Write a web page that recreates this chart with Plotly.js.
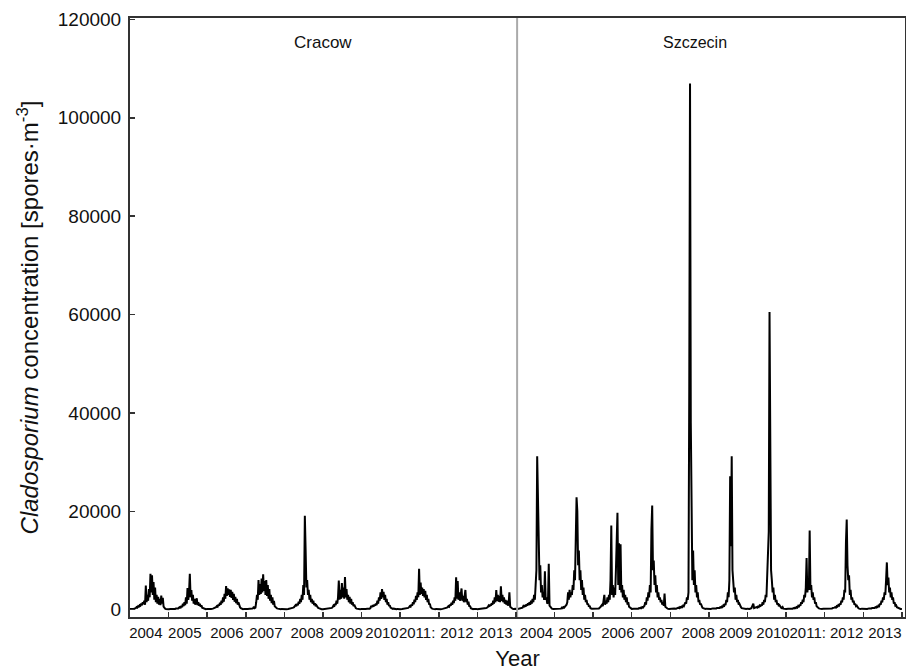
<!DOCTYPE html>
<html>
<head>
<meta charset="utf-8">
<script src="https://cdn.plot.ly/plotly-3.0.1.min.js"></script>
<style>html,body{margin:0;padding:0;background:#fff;}#chart{width:906px;height:671px;}</style>
</head>
<body>
<div id="chart"></div>
<script>
// Sampling positions within each year (fraction of the year)
const FRAC = [0,0.05,0.10,0.15,0.17,0.19,0.21,0.23,0.25,0.27,0.29,0.31,0.33,0.35,0.37,0.39,0.41,0.43,0.45,0.47,0.49,0.51,0.53,0.55,0.57,0.59,0.61,0.63,0.65,0.67,0.69,0.71,0.73,0.75,0.77,0.79,0.81,0.83,0.85,0.87,0.89,0.91,0.93,0.965];

const YEARS = ["2004","2005","2006","2007","2008","2009","2010","2011:","2012","2013"];
const CITIES = ["Cracow","Szczecin"];

// Cracow daily concentrations (spores/m3), one array per year on FRAC
const cracow2004 = [150,100,200,300,500,400,700,600,900,800,1200,900,1500,1100,1800,1000,4900,1500,3000,1800,4200,2500,7300,3500,7000,3000,5600,2000,4500,1500,3000,1200,2600,1000,2200,900,2850,1200,2400,600,300,200,150,100];
const cracow2005 = [100,150,100,200,150,250,200,300,250,400,500,300,800,500,1200,700,1500,900,2500,1200,4400,2000,3500,7300,2500,4000,1800,3000,1200,2200,1000,1800,2300,900,1500,800,1200,600,900,400,300,200,150,100];
const cracow2006 = [150,100,150,200,250,300,400,500,700,600,1000,800,1400,1000,1800,1300,2500,1600,3200,2200,4800,2800,4300,3000,4100,2600,4000,2400,3600,2000,3200,1600,2600,1300,2200,1000,1500,700,500,300,200,150,100,150];
const cracow2007 = [100,150,200,150,250,300,600,300,400,1500,3000,2000,6000,3000,5200,3200,6300,3500,7200,3800,5800,3000,6000,2800,5000,2200,4200,1800,3000,1300,2500,1000,1800,700,500,300,250,200,150,200,150,100,150,100];
const cracow2008 = [150,100,150,200,250,300,350,400,500,700,900,700,1200,900,1600,1200,2200,1500,3000,2000,5000,3000,19100,12200,4500,6000,3000,4000,2000,3000,1500,2200,1200,1800,900,1300,700,900,500,400,300,200,150,100];
const cracow2009 = [100,150,100,200,150,250,300,350,500,800,600,1200,900,1800,1200,2500,5900,2000,4000,2200,5400,2500,4500,2200,6650,2500,4200,2000,3000,1500,2600,1200,2200,1000,1500,700,1000,400,300,200,150,100,150,100];
const cracow2010 = [150,100,150,200,150,250,200,300,800,500,900,600,1000,800,1200,900,1800,1200,2500,1800,3500,2200,4200,2500,3600,2000,3000,1500,2200,1000,1500,700,900,400,300,200,150,200,150,100,150,100,150,100];
const cracow2011 = [100,150,200,150,250,300,350,500,700,600,1000,800,1500,1100,2000,1500,2800,2000,3500,2500,8300,3000,5500,3200,4500,2800,4200,2500,3800,2000,3000,1500,2200,1000,1200,500,300,200,150,100,150,100,150,100];
const cracow2012 = [150,100,150,200,250,300,400,500,700,600,1000,800,1400,1000,1800,1300,2500,1800,6600,2200,5800,2000,3500,1800,3000,4300,1800,2800,1500,2500,4000,1500,2200,1000,1600,600,800,300,200,150,100,150,100,150];
const cracow2013 = [100,150,100,200,150,250,300,350,400,500,800,600,1000,800,1300,1000,1800,1200,2500,1500,4000,1800,3000,1600,2800,1500,4750,1800,3000,1500,2500,1200,2000,1000,1800,800,1200,3500,600,400,300,200,150,100];

// Szczecin daily concentrations (spores/m3), one array per year on FRAC
const szczecin2004 = [200,150,300,500,400,700,500,900,600,1100,800,1300,900,1500,1000,1800,1200,2200,1500,3000,2000,5000,8000,31200,20700,14900,6000,9000,3500,5000,2500,3500,2000,7800,2000,2500,1200,1500,9300,800,500,300,200,150];
const szczecin2005 = [150,200,150,300,200,400,300,500,400,600,800,1000,1500,3500,2000,4000,2500,3500,3000,5000,4000,8000,6000,16500,22850,20000,9000,12000,6000,8000,4000,6000,3000,4500,2000,3000,1500,2000,1000,1200,600,800,300,200];
const szczecin2006 = [200,150,300,250,400,500,800,1000,700,1500,3000,1000,1800,1200,2500,1500,3000,2000,6000,17100,3000,5000,2500,4500,3000,8000,13500,19700,5000,13500,4000,13300,3500,5000,2500,4000,2000,3000,1500,2500,1000,1500,600,300];
const szczecin2007 = [150,200,150,250,200,300,250,400,300,500,400,600,800,1500,1000,2500,1800,3500,2500,5000,3500,16300,21150,8000,10000,5000,7000,3500,5000,2500,3500,2000,2500,1500,2000,1000,1500,800,3250,600,400,300,200,150];
const szczecin2008 = [200,150,250,200,300,250,400,300,500,400,600,500,800,700,1000,1500,1200,2500,2000,3500,44400,107000,38000,13000,6000,12000,5000,8000,3500,5000,2500,3500,1500,2000,1000,1200,500,400,300,200,250,150,200,150];
const szczecin2009 = [200,150,250,200,300,250,350,300,400,350,500,400,600,500,800,600,1200,900,2000,1500,3500,2500,6000,27100,12900,31200,8000,5000,3500,4500,2000,3000,1500,2000,1000,1200,600,500,300,250,200,150,200,150];
const szczecin2010 = [200,150,300,1200,300,400,350,500,400,600,500,800,600,1000,800,1500,1000,2000,1500,3000,2500,6000,12900,15900,60500,31000,8000,6000,3500,4500,2000,3000,1500,2000,1000,1300,700,900,500,400,300,500,200,150];
const szczecin2011 = [150,200,150,250,200,300,250,400,300,500,400,700,500,1000,800,1500,1200,2000,1500,3000,2500,4500,10500,3500,5000,4000,16100,4000,5000,2500,3500,2000,2500,1200,1500,700,500,300,250,200,150,200,150,200];
const szczecin2012 = [200,150,250,200,300,250,350,300,400,500,400,700,600,900,800,1200,1000,1800,1500,2500,2000,4000,3500,13600,18300,9000,6000,7000,3000,4000,2000,2500,1500,1800,1000,1200,700,800,400,300,200,250,150,200];
const szczecin2013 = [150,200,150,250,200,300,250,350,300,400,350,500,400,600,500,800,700,1200,1000,1800,1500,2500,2000,3500,3000,6000,9600,5000,6500,3500,4500,2500,3500,2000,2500,1200,1500,800,900,500,400,300,200,150];

const cracowSeries = [cracow2004,cracow2005,cracow2006,cracow2007,cracow2008,cracow2009,cracow2010,cracow2011,cracow2012,cracow2013];
const szczecinSeries = [szczecin2004,szczecin2005,szczecin2006,szczecin2007,szczecin2008,szczecin2009,szczecin2010,szczecin2011,szczecin2012,szczecin2013];

// Year label positions (in year units from start) as placed in the figure
const labelPos = [0.41,1.42,2.51,3.52,4.59,5.60,6.53,7.44,8.47,9.48,10.53,11.53,12.64,13.64,14.72,15.69,16.66,17.56,18.57,19.56];

const xs = [], ys = [];
[cracowSeries, szczecinSeries].forEach((series, ci) => {
  series.forEach((vals, yi) => {
    const offset = ci * 10 + yi;
    vals.forEach((v, i) => { xs.push(offset + FRAC[i]); ys.push(v); });
  });
});
xs.push(20); ys.push(150);

const tickBounds = [];
for (let k = 1; k <= 20; k++) tickBounds.push(k);

const yMin = -1500, yMax = 120300, xMin = 0, xMax = 20.08;

const traces = [
  {x: xs, y: ys, type: 'scatter', mode: 'lines', line: {color: '#000', width: 2}, xaxis: 'x', yaxis: 'y', hoverinfo: 'skip'},
  {x: [10.03, 10.03], y: [yMin, yMax], type: 'scatter', mode: 'lines', line: {color: '#aaaaaa', width: 2}, xaxis: 'x2', yaxis: 'y', hoverinfo: 'skip'}
];

const layout = {
  width: 906, height: 671,
  margin: {l: 130, r: 1, t: 18, b: 54},
  paper_bgcolor: '#fff', plot_bgcolor: '#fff',
  showlegend: false,
  font: {family: 'Liberation Sans, Arial, sans-serif', color: '#111'},
  xaxis: {
    range: [xMin, xMax], showgrid: false, zeroline: false,
    showline: true, linecolor: '#333', linewidth: 2, mirror: true,
    ticks: 'inside', ticklen: 5, tickwidth: 1.5, tickcolor: '#333',
    tickvals: tickBounds, showticklabels: false
  },
  xaxis2: {
    overlaying: 'x', anchor: 'y', side: 'bottom',
    range: [xMin, xMax], showgrid: false, zeroline: false, showline: false,
    ticks: '', tickvals: labelPos, ticktext: YEARS.concat(YEARS),
    tickangle: 0, tickfont: {size: 15, color: '#111'}, ticklabelstandoff: 5,
    title: {text: 'Year', font: {size: 22, color: '#111'}, standoff: 10}
  },
  yaxis: {
    range: [yMin, yMax], showgrid: false, zeroline: false,
    showline: true, linecolor: '#333', linewidth: 2, mirror: true,
    ticks: 'inside', ticklen: 5, tickwidth: 1.5, tickcolor: '#333',
    tickvals: [0,20000,40000,60000,80000,100000,120000],
    ticktext: ['0','20000','40000','60000','80000','100000','120000'],
    tickfont: {size: 19, color: '#111'}, ticklabelstandoff: 3,
    title: {text: '<i>Cladosporium</i> concentration [spores·m<sup>-3</sup>]', font: {size: 24, color: '#111'}, standoff: 12}
  },
  annotations: [
    {x: 5.0, y: 115400, xref: 'x', yref: 'y', text: CITIES[0], showarrow: false, font: {size: 17, color: '#111'}},
    {x: 14.64, y: 115400, xref: 'x', yref: 'y', text: CITIES[1], showarrow: false, font: {size: 16, color: '#111'}}
  ]
};

Plotly.newPlot('chart', traces, layout, {staticPlot: true, displayModeBar: false});
</script>
</body>
</html>
